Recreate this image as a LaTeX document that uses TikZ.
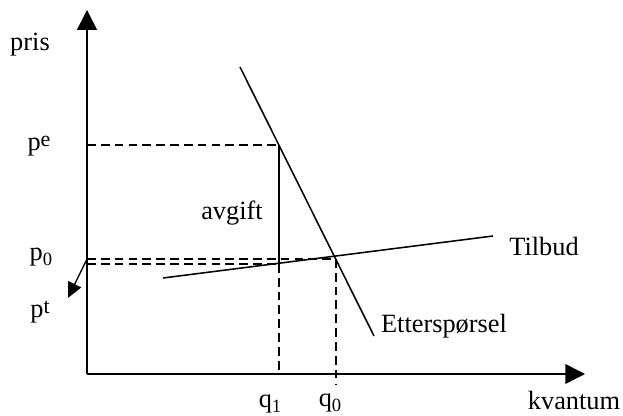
\documentclass[tikz,border=0pt]{standalone}
\usepackage{fontspec}
\setmainfont{Liberation Serif}
\usetikzlibrary{arrows.meta, positioning}

\newcommand{\hev}[1]{\raisebox{1.8pt}{\fontsize{10}{12}\selectfont #1}}
\newcommand{\senk}[1]{\raisebox{-2.2pt}{\fontsize{8.5}{10}\selectfont #1}}

\begin{document}
\begin{tikzpicture}[x=0.016cm, y=-0.016cm, font=\fontsize{12}{14}\selectfont,
    akse/.style={-{Triangle[length=9pt, width=9pt]}, line width=0.7pt},
    hjelp/.style={dash pattern=on 4pt off 2.3pt, line width=0.65pt},
    kurve/.style={line width=0.7pt}]
      \useasboundingbox (0,0) rectangle (623,416);

      % akser
      \coordinate (o) at (87,374);
      \coordinate (ytopp) at (87,10);
      \coordinate (xslutt) at (585,374);
      \draw[akse] (o) -- (ytopp);
      \draw[akse] (o) -- (xslutt);

      % tilbud og etterspørsel
      \coordinate (e1) at (240,67);
      \coordinate (e2) at (374,336);
      \coordinate (t1) at (163,278);
      \coordinate (t2) at (493,236);
      \draw[kurve] (e1) -- (e2);
      \draw[kurve] (t1) -- (t2);

      % hjelpepunkter
      \coordinate (pe) at (87,145);
      \coordinate (pehj) at (279,145);
      \coordinate (p0) at (87,259);
      \coordinate (likev) at (336,259);
      \coordinate (pt) at (87,264);
      \coordinate (pthj) at (279,264);
      \coordinate (q1) at (279,374);
      \coordinate (q0) at (336,384);
      \coordinate (pil) at (68,298);

      \draw[hjelp] (pe) -- (pehj);
      \draw[hjelp] (p0) -- (likev);
      \draw[hjelp] (pt) -- (pthj);
      \draw[hjelp] (pthj) -- (q1);
      \draw[hjelp] (likev) -- (q0);
      \draw[kurve] (pehj) -- (pthj);
      \draw[-{Triangle[length=7pt, width=6.5pt]}, line width=0.6pt] (p0) -- (pil);

      % tekst
      \node (pris) at (30,45) {pris};
      \node (lpe) at (39,146) {p\hev{e}};
      \node (lp0) at (41,257) {p\senk{0}};
      \node (lpt) at (40,312) {p\hev{t}};
      \node (avgift) at (232,213) {avgift};
      \node (tilbud) at (544,246) {Tilbud};
      \node (etter) at (444,326) {Etterspørsel};
      \node (lq1) at (270,404) {q\senk{1}};
      \node (lq0) at (330,403) {q\senk{0}};
      \node (kvantum) at (574,400) {kvantum};
    \end{tikzpicture}
\end{document}
